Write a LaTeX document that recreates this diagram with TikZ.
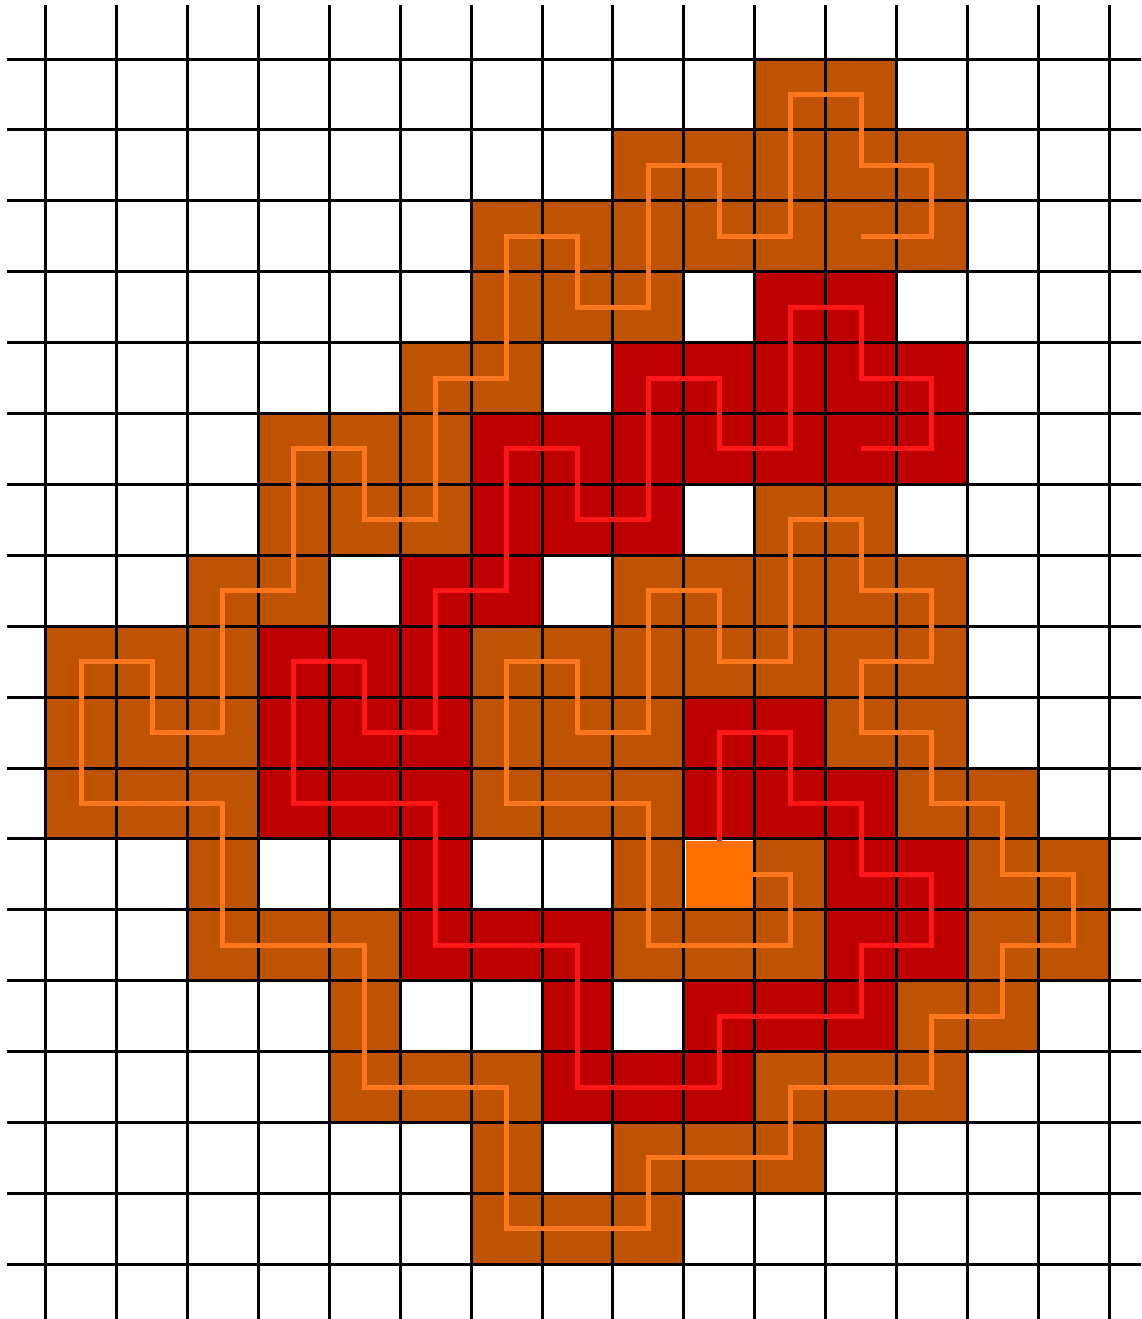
\documentclass[tikz,border=0pt]{standalone}
\definecolor{brownfill}{RGB}{190,84,2}
\definecolor{redfill}{RGB}{190,0,0}
\definecolor{oline}{RGB}{255,118,28}
\definecolor{rline}{RGB}{255,22,22}
\definecolor{centerfill}{RGB}{255,112,0}
\tikzset{
  gridline/.style={draw=black,line width=0.06cm},
  opath/.style={draw=oline,line width=0.1cm},
  rpath/.style={draw=rline,line width=0.1cm},
}
\begin{document}
\begin{tikzpicture}[x=1.418cm,y=-1.418cm]
\fill[white] (-0.6446,-0.8322) rectangle (15.4485,17.7715);
\useasboundingbox (-0.6446,-0.8322) rectangle (15.4485,17.7715);
% brown cells (orange route)
\foreach \c/\r in {10/11,10/12,9/12,8/12,8/11,8/10,7/10,6/10,6/9,6/8,7/8,7/9,8/9,8/8,8/7,9/7,9/8,10/8,10/7,10/6,11/6,11/7,12/7,12/8,11/8,11/9,12/9,12/10,13/10,13/11,14/11,14/12,13/12,13/13,12/13,12/14,11/14,10/14,10/15,9/15,8/15,8/16,7/16,6/16,6/15,6/14,5/14,4/14,4/13,4/12,3/12,2/12,2/11,2/10,1/10,0/10,0/9,0/8,1/8,1/9,2/9,2/8,2/7,3/7,3/6,3/5,4/5,4/6,5/6,5/5,5/4,6/4,6/3,6/2,7/2,7/3,8/3,8/2,8/1,9/1,9/2,10/2,10/1,10/0,11/0,11/1,12/1,12/2,11/2}
  \fill[brownfill] (\c,\r) rectangle ++(1,1);
% red cells (red route)
\foreach \c/\r in {9/10,9/9,10/9,10/10,11/10,11/11,12/11,12/12,11/12,11/13,10/13,9/13,9/14,8/14,7/14,7/13,7/12,6/12,5/12,5/11,5/10,4/10,3/10,3/9,3/8,4/8,4/9,5/9,5/8,5/7,6/7,6/6,6/5,7/5,7/6,8/6,8/5,8/4,9/4,9/5,10/5,10/4,10/3,11/3,11/4,12/4,12/5,11/5}
  \fill[redfill] (\c,\r) rectangle ++(1,1);
% grid
\foreach \i in {0,...,15} \draw[gridline] (\i,-0.762) -- (\i,17.7715);
\foreach \j in {0,...,17} \draw[gridline] (-0.546,\j) -- (15.4485,\j);
% routes
\begin{scope}[shift={(0.5,0.5)}]
\draw[opath] plot coordinates {(9,11) (10,11) (10,12) (9,12) (8,12) (8,11) (8,10) (7,10) (6,10) (6,9) (6,8) (7,8) (7,9) (8,9) (8,8) (8,7) (9,7) (9,8) (10,8) (10,7) (10,6) (11,6) (11,7) (12,7) (12,8) (11,8) (11,9) (12,9) (12,10) (13,10) (13,11) (14,11) (14,12) (13,12) (13,13) (12,13) (12,14) (11,14) (10,14) (10,15) (9,15) (8,15) (8,16) (7,16) (6,16) (6,15) (6,14) (5,14) (4,14) (4,13) (4,12) (3,12) (2,12) (2,11) (2,10) (1,10) (0,10) (0,9) (0,8) (1,8) (1,9) (2,9) (2,8) (2,7) (3,7) (3,6) (3,5) (4,5) (4,6) (5,6) (5,5) (5,4) (6,4) (6,3) (6,2) (7,2) (7,3) (8,3) (8,2) (8,1) (9,1) (9,2) (10,2) (10,1) (10,0) (11,0) (11,1) (12,1) (12,2) (11,2)};
\draw[rpath] plot coordinates {(9,11) (9,10) (9,9) (10,9) (10,10) (11,10) (11,11) (12,11) (12,12) (11,12) (11,13) (10,13) (9,13) (9,14) (8,14) (7,14) (7,13) (7,12) (6,12) (5,12) (5,11) (5,10) (4,10) (3,10) (3,9) (3,8) (4,8) (4,9) (5,9) (5,8) (5,7) (6,7) (6,6) (6,5) (7,5) (7,6) (8,6) (8,5) (8,4) (9,4) (9,5) (10,5) (10,4) (10,3) (11,3) (11,4) (12,4) (12,5) (11,5)};
\end{scope}
% start cell
\fill[centerfill] (9.025,11.025) rectangle (9.975,11.975);
\end{tikzpicture}
\end{document}
